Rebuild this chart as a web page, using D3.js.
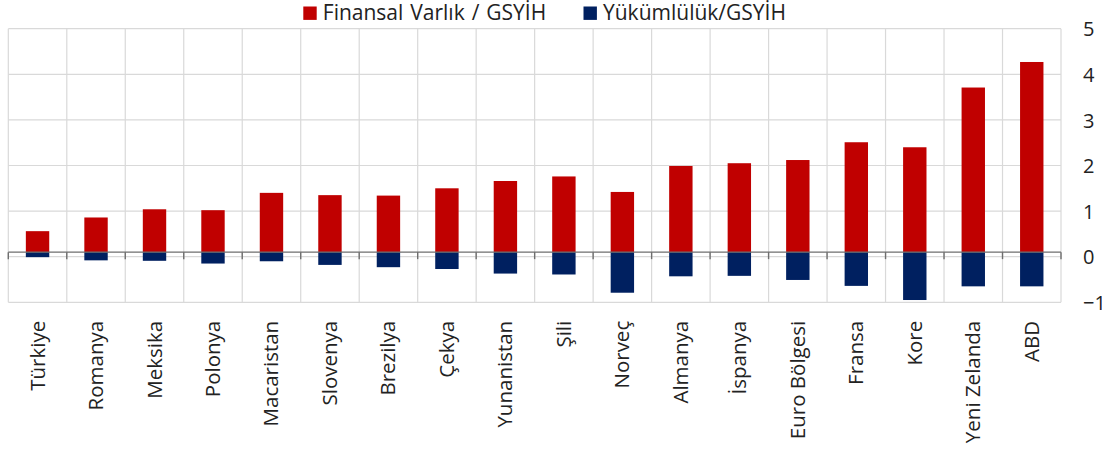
<!DOCTYPE html>
<html>
<head>
<meta charset="utf-8">
<script src="https://cdn.jsdelivr.net/npm/d3@7/dist/d3.min.js"></script>
<style>
  html, body { margin: 0; padding: 0; background: #fff; }
  svg { display: block; font-family: "Open Sans", "Noto Sans", sans-serif; }
</style>
</head>
<body>
<svg id="chart" width="1102" height="450"></svg>
<script>
// Household financial assets and liabilities as a ratio of GDP
const countries = ["Türkiye", "Romanya", "Meksika", "Polonya", "Macaristan", "Slovenya",
  "Brezilya", "Çekya", "Yunanistan", "Şili", "Norveç", "Almanya", "İspanya",
  "Euro Bölgesi", "Fransa", "Kore", "Yeni Zelanda", "ABD"];
const assets = [0.46, 0.76, 0.94, 0.92, 1.30, 1.25, 1.24, 1.40, 1.56, 1.66, 1.32, 1.89,
  1.95, 2.02, 2.41, 2.30, 3.61, 4.17];
const liabilities = [-0.11, -0.18, -0.19, -0.25, -0.20, -0.28, -0.33, -0.37, -0.47, -0.49,
  -0.89, -0.53, -0.52, -0.61, -0.74, -1.05, -0.75, -0.75];
const seriesNames = ["Finansal Varlık / GSYİH", "Yükümlülük/GSYİH"];
const seriesColors = ["#C00000", "#002060"];
const yTicks = [-1, 0, 1, 2, 3, 4, 5];

const svg = d3.select("#chart");
const plot = { left: 8.3, right: 1061, top: 28.7, bottom: 302.3 };

const x = d3.scaleBand().domain(countries).range([plot.left, plot.right]).paddingInner(0).paddingOuter(0);
// value axis shown on the right
const yAxisScale = d3.scaleLinear().domain([-1, 5]).range([plot.bottom, plot.top]);
// bars sit on the category axis, which crosses slightly above the zero gridline
const y = d3.scaleLinear().domain([-1.1, 4.9]).range([plot.bottom, plot.top]);

const barW = x.bandwidth() * 0.4;
const barOff = (x.bandwidth() - barW) / 2;

// gridlines
const grid = svg.append("g").attr("stroke", "#d9d9d9").attr("stroke-width", 1.2);
grid.selectAll("line.h").data(yTicks).join("line")
  .attr("x1", plot.left).attr("x2", plot.right)
  .attr("y1", d => yAxisScale(d)).attr("y2", d => yAxisScale(d));
const bounds = countries.map(c => x(c)).concat([plot.right]);
grid.selectAll("line.v").data(bounds).join("line")
  .attr("x1", d => d).attr("x2", d => d)
  .attr("y1", plot.top).attr("y2", plot.bottom);

// bars
svg.append("g").selectAll("rect").data(countries).join("rect")
  .attr("x", c => x(c) + barOff).attr("width", barW)
  .attr("y", (c, i) => y(assets[i]))
  .attr("height", (c, i) => y(0) - y(assets[i]))
  .attr("fill", seriesColors[0]);
svg.append("g").selectAll("rect").data(countries).join("rect")
  .attr("x", c => x(c) + barOff).attr("width", barW)
  .attr("y", y(0))
  .attr("height", (c, i) => y(liabilities[i]) - y(0))
  .attr("fill", seriesColors[1]);

// category axis line with tick marks between categories
const axisG = svg.append("g").attr("stroke", "#6e6e6e").attr("stroke-width", 1.4);
axisG.append("line").attr("x1", plot.left).attr("x2", plot.right)
  .attr("y1", y(0)).attr("y2", y(0));
axisG.selectAll("line.t").data(bounds).join("line")
  .attr("x1", d => d).attr("x2", d => d)
  .attr("y1", y(0)).attr("y2", y(0) + 7);

// right value axis labels
const yAxis = d3.axisRight(yAxisScale).tickValues(yTicks).tickSize(0).tickPadding(0)
  .tickFormat(d3.format("d"));
const ya = svg.append("g").attr("transform", `translate(1083,0)`).call(yAxis);
ya.select(".domain").remove();
ya.selectAll("text").attr("font-size", 20).attr("fill", "#222")
  .attr("font-family", "'Open Sans', sans-serif").attr("dy", "0.36em").attr("x", 0);

// rotated category labels
svg.append("g").selectAll("text").data(countries).join("text")
  .attr("transform", c => `translate(${x(c) + x.bandwidth() / 2 + 7},${plot.bottom + 18.5}) rotate(-90)`)
  .attr("text-anchor", "end")
  .attr("font-size", 20.5).attr("fill", "#222")
  .text(c => c);

// legend
const legendX = [303.3, 583.5];
const lg = svg.append("g");
seriesNames.forEach((name, i) => {
  lg.append("rect").attr("x", legendX[i]).attr("y", 6.5).attr("width", 13.4).attr("height", 13.4)
    .attr("fill", seriesColors[i]);
  lg.append("text").attr("x", legendX[i] + 19.5).attr("y", 20)
    .attr("font-size", 21).attr("fill", "#222").attr("word-spacing", 1.5).text(name);
});
</script>
</body>
</html>
